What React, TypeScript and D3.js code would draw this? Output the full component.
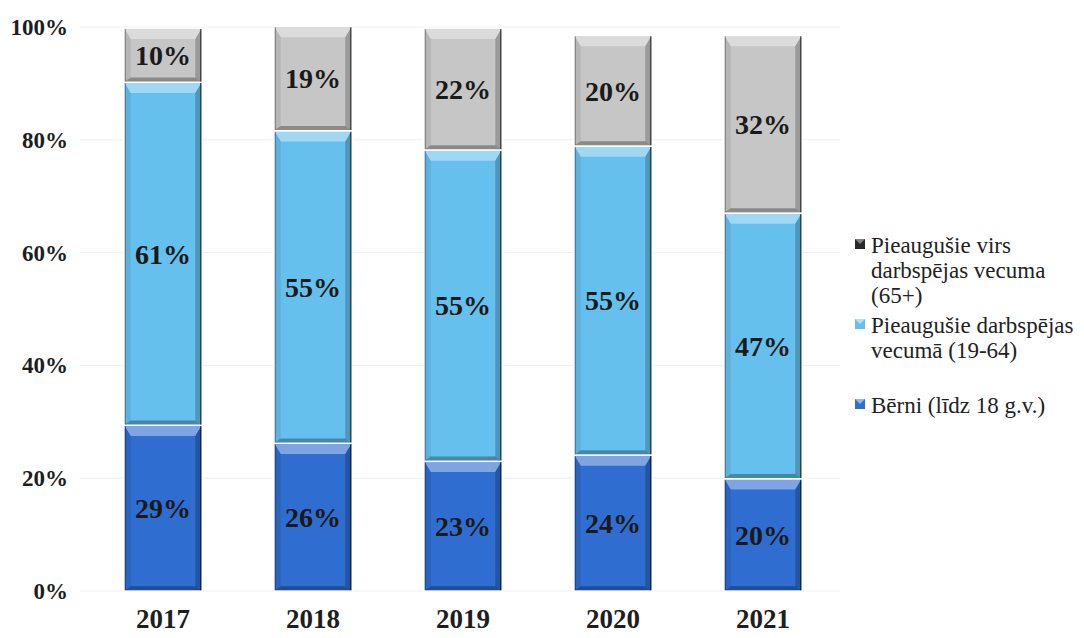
import React from "react";
import * as d3 from "d3";

const years = ["2017", "2018", "2019", "2020", "2021"];
const children = [29.4, 26.2, 23.0, 24.1, 19.9];
const working = [60.8, 55.4, 55.2, 54.8, 47.1];
const seniors = [9.6, 18.5, 21.6, 19.6, 31.5];
const yTicks = [0, 20, 40, 60, 80, 100];

const seriesNames = [
  "Bērni (līdz 18 g.v.)",
  "Pieaugušie darbspējas vecumā (19-64)",
  "Pieaugušie virs darbspējas vecuma (65+)",
];
const legendLines = [
  ["Pieaugušie virs", "darbspējas vecuma", "(65+)"],
  ["Pieaugušie darbspējas", "vecumā (19-64)"],
  ["Bērni (līdz 18 g.v.)"],
];
const colors = ["#2f6dd0", "#66c0ee", "#c6c6c6"];

export default function App() {
  const W = 1084, H = 638;
  const x = d3.scaleBand().domain(years).range([88, 838]).paddingInner(0.48).paddingOuter(0.24);
  const y = d3.scaleLinear().domain([0, 100]).range([591, 27]);
  const rows = years.map((yr, i) => ({ yr, c: children[i], w: working[i], s: seniors[i] }));
  const stack = d3.stack<any>().keys(["c", "w", "s"])(rows);
  const font = "'Liberation Serif', 'Times New Roman', serif";

  const bevel = (x0: number, y0: number, w: number, h: number) => {
    const bt = Math.min(10, h / 3), bb = Math.min(4, h / 4), bs = 6;
    const x1 = x0 + w, y1 = y0 + h;
    return (
      <g>
        <polygon points={`${x0},${y0} ${x1},${y0} ${x1 - bs},${y0 + bt} ${x0 + bs},${y0 + bt}`} fill="#fff" opacity={0.38} />
        <polygon points={`${x0},${y0} ${x0 + bs},${y0 + bt} ${x0 + bs},${y1 - bb} ${x0},${y1}`} fill="#000" opacity={0.08} />
        <polygon points={`${x1},${y0} ${x1 - bs},${y0 + bt} ${x1 - bs},${y1 - bb} ${x1},${y1}`} fill="#000" opacity={0.22} />
        <polygon points={`${x0},${y1} ${x0 + bs},${y1 - bb} ${x1 - bs},${y1 - bb} ${x1},${y1}`} fill="#000" opacity={0.3} />
        <line x1={x0 + 0.5} x2={x0 + 0.5} y1={y0} y2={y1} stroke="#000" strokeOpacity={0.35} />
        <line x1={x1 - 0.5} x2={x1 - 0.5} y1={y0} y2={y1} stroke="#000" strokeOpacity={0.55} strokeWidth={1.5} />
      </g>
    );
  };

  return (
    <div style={{ position: "absolute", left: 0, top: 0 }}>
      <svg width={W} height={H} style={{ display: "block", background: "#fff" }}>
        {yTicks.map((t) => (
          <g key={t}>
            <line x1={80} x2={840} y1={y(t)} y2={y(t)} stroke="#f0f0f0" strokeWidth={1} />
            <text x={68} y={y(t)} dy="0.35em" textAnchor="end" fontFamily={font} fontWeight="bold" fontSize={23} fill="#1e1e1e">
              {t}%
            </text>
          </g>
        ))}
        {stack.map((layer, si) => (
          <g key={si}>
            {layer.map((d, i) => {
              const x0 = x(years[i])!;
              const bw = x.bandwidth();
              const top = y(d[1]);
              const h = y(d[0]) - y(d[1]);
              const val = d[1] - d[0];
              return (
                <g key={i}>
                  <rect x={x0} y={top} width={bw} height={h} fill={colors[si]} stroke="#fff" strokeWidth={1.5} />
                  {bevel(x0 + 0.75, top + 0.75, bw - 1.5, h - 1.5)}
                  <text x={x0 + bw / 2} y={top + h / 2} dy="0.35em" textAnchor="middle" fontFamily={font} fontWeight="bold" fontSize={28} fill="#1a1a1a">
                    {Math.round(val)}%
                  </text>
                </g>
              );
            })}
          </g>
        ))}
        {years.map((yr) => (
          <text key={yr} x={x(yr)! + x.bandwidth() / 2} y={628} textAnchor="middle" fontFamily={font} fontWeight="bold" fontSize={27} fill="#1e1e1e">
            {yr}
          </text>
        ))}
        {legendLines.map((lines, li) => {
          const starts = [245, 325, 405];
          const ci = 2 - li;
          return (
            <g key={li}>
              <rect x={855} y={starts[li] - 6} width={10} height={10} fill={li === 0 ? "#2a2a2a" : colors[ci]} />
              <polygon points={`${855},${starts[li] - 6} ${865},${starts[li] - 6} ${860},${starts[li] - 1}`} fill={li === 0 ? "#999" : "#fff"} opacity={li === 0 ? 0.8 : 0.5} />
              {lines.map((ln, k) => (
                <text key={k} x={871} y={starts[li] + k * 25} dy="0.35em" fontFamily={font} fontSize={23} fill="#222">
                  <title>{seriesNames[ci]}</title>
                  {ln}
                </text>
              ))}
            </g>
          );
        })}
      </svg>
    </div>
  );
}
